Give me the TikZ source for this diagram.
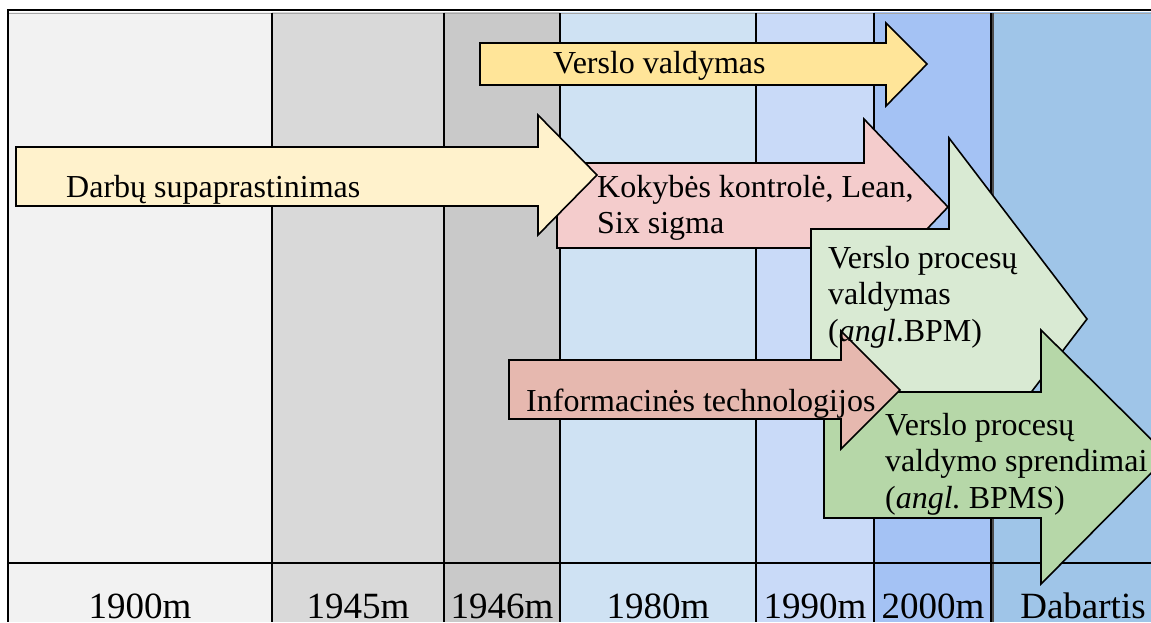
\documentclass[tikz,border=0pt]{standalone}
\usepackage{fontspec}
\setmainfont{Liberation Serif}
% column shades
\definecolor{colA}{HTML}{F2F2F2}
\definecolor{colB}{HTML}{D9D9D9}
\definecolor{colC}{HTML}{C9C9C9}
\definecolor{colD}{HTML}{CFE2F3}
\definecolor{colE}{HTML}{C9DAF8}
\definecolor{colF}{HTML}{A4C2F4}
\definecolor{colG}{HTML}{9FC5E8}
% arrow fills
\definecolor{arrYellow}{HTML}{FFE599}
\definecolor{arrCream}{HTML}{FFF2CC}
\definecolor{arrPink}{HTML}{F4CCCC}
\definecolor{arrLightGreen}{HTML}{D9EAD3}
\definecolor{arrGreen}{HTML}{B6D7A8}
\definecolor{arrRose}{HTML}{E6B8AF}
\begin{document}
\begin{tikzpicture}[x=1pt,y=-1pt,
  gridline/.style={black, line width=1.6pt},
  bigarrow/.style={draw=black, line width=1.6pt, line join=miter},
  txt/.style={font=\fontsize{32}{36.5}\selectfont, inner sep=0pt, anchor=base west, align=left},
  yearlbl/.style={font=\fontsize{37}{40}\selectfont, inner sep=0pt, anchor=base}]
\useasboundingbox (0,0) rectangle (1151,622);
\clip (0,0) rectangle (1151,622);

% timeline columns
\fill[colA] (8,12) rectangle (272,622);
\fill[colB] (272,12) rectangle (444,622);
\fill[colC] (444,12) rectangle (560,622);
\fill[colD] (560,12) rectangle (756,622);
\fill[colE] (756,12) rectangle (874,622);
\fill[colF] (874,12) rectangle (992,622);
\fill[colG] (992,12) rectangle (1160,622);

% table rules
\draw[black, line width=2pt] (7,10.3) -- (1160,10.3);
\draw[gray!70, line width=1.3pt] (9,13.4) -- (1160,13.4);
\draw[black, line width=2pt] (8.3,9.3) -- (8.3,622);
\foreach \x in {272,444,560,756,874}
  \draw[gridline] (\x,13) -- (\x,622);
\draw[black, line width=2pt] (991,13) -- (991,622);
\draw[gray!60!black, line width=1.6pt] (993,13) -- (993,622);
\draw[gridline] (8,563) -- (1160,563);

% Verslo valdymas
\draw[bigarrow, fill=arrYellow] (480,43) -- (886,43) -- (886,23) -- (927,64)
  -- (886,106) -- (886,85) -- (480,85) -- cycle;
% Kokybes kontrole
\draw[bigarrow, fill=arrPink] (557,163) -- (864,163) -- (864,119) -- (948,207)
  -- (864,295) -- (864,248) -- (557,248) -- cycle;
% Darbu supaprastinimas
\draw[bigarrow, fill=arrCream] (16,147) -- (538,147) -- (538,115) -- (597,175)
  -- (538,235) -- (538,206) -- (16,206) -- cycle;
% Verslo procesu valdymas
\draw[bigarrow, fill=arrLightGreen] (811,229) -- (949,229) -- (949,138) -- (1087,319)
  -- (949,500) -- (949,392) -- (811,392) -- cycle;
% Verslo procesu valdymo sprendimai
\draw[bigarrow, fill=arrGreen] (824,392) -- (1041,392) -- (1041,330) -- (1168,456)
  -- (1041,584) -- (1041,518) -- (824,518) -- cycle;
% Informacines technologijos
\draw[bigarrow, fill=arrRose] (509,360) -- (841,360) -- (841,331) -- (900,390)
  -- (841,449) -- (841,419) -- (509,419) -- cycle;

% arrow captions (multi-line nodes sit on the baseline of their last line)
\node[txt] (tvv) at (553,73) {Verslo valdymas};
\node[txt] (tds) at (66,197) {Darbų supaprastinimas};
\node[txt] (tkk) at (597,233.5) {Kokybės kontrolė, Lean,\\Six sigma};
\node[txt] (tbpm) at (828,341) {Verslo procesų\\valdymas\\(\textit{angl}.BPM)};
\node[txt] (tit) at (526,411) {Informacinės technologijos};
\node[txt] (tbpms) at (885,508) {Verslo procesų\\valdymo sprendimai\\(\textit{angl.}\ BPMS)};

% period labels
\node[yearlbl] (y1900) at (140,618) {1900m};
\node[yearlbl] (y1945) at (358,618) {1945m};
\node[yearlbl] (y1946) at (502,618) {1946m};
\node[yearlbl] (y1980) at (658,618) {1980m};
\node[yearlbl] (y1990) at (815,618) {1990m};
\node[yearlbl] (y2000) at (933,618) {2000m};
\node[yearlbl] (ydab) at (1083,618) {Dabartis};
\end{tikzpicture}
\end{document}
